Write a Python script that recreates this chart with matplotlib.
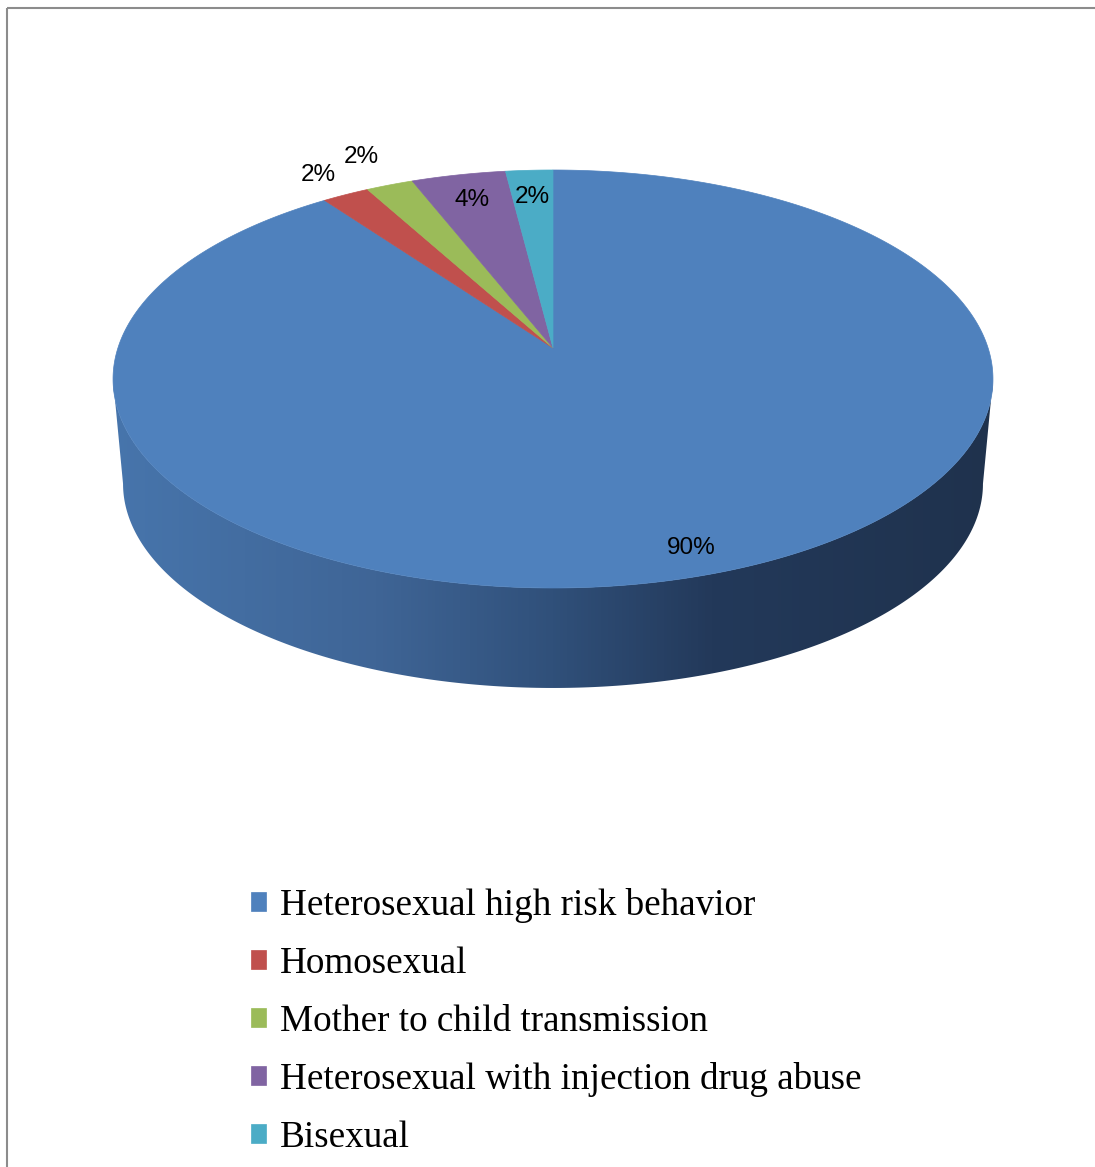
import numpy as np
import matplotlib
matplotlib.use("Agg")
import matplotlib.pyplot as plt
from matplotlib.transforms import Transform
from matplotlib.path import Path
from matplotlib.patches import Polygon, Rectangle
from matplotlib.colors import LinearSegmentedColormap

# data
categories = ["Heterosexual high risk behavior", "Homosexual",
              "Mother to child transmission",
              "Heterosexual with injection drug abuse", "Bisexual"]
shares = [90, 2, 2, 4, 2]
pct_labels = ["90%", "2%", "2%", "4%", "2%"]
colors = ["#4F81BD", "#C0504D", "#9BBB59", "#8064A2", "#4BACC6"]
label_radius = [0.9, 1.15, 1.2, 0.84, 0.83]


class Tilt(Transform):
    """Maps the unit disc onto a perspective ellipse (pixel coords)."""
    input_dims = output_dims = 2
    is_separable = False
    has_inverse = False

    def __init__(self, cx, cy, a, b, k):
        super().__init__()
        self.cx, self.cy, self.a, self.b, self.k = cx, cy, a, b, k

    def transform_non_affine(self, values):
        arr = np.asarray(values, dtype=float)
        xy = arr.reshape(-1, 2)
        w = 1 + self.k * xy[:, 1]
        out = np.column_stack([self.cx + self.a * xy[:, 0] / w,
                               self.cy - self.b * xy[:, 1] / w])
        return out.reshape(arr.shape)

    def transform_path_non_affine(self, path):
        # flatten the bezier arcs first so the projection stays smooth
        t = np.linspace(0, 1, 40)
        pts = np.concatenate([seg(t) for seg, _ in path.iter_bezier()])
        return Path(self.transform_non_affine(pts))


W, H = 1095, 1167
fig = plt.figure(figsize=(W / 100, H / 100), dpi=100)
ax = fig.add_axes([0, 0, 1, 1])

k = 0.1483
top = Tilt(553, 348, 435.1, 204.4, k)
bottom = Tilt(553, 453.5, 425.2, 199.7, k)

# front side of the cake
s = np.arcsin(k)
t = np.linspace(np.pi + s, 2 * np.pi - s, 300)
rim = np.column_stack([np.cos(t), np.sin(t)])
side_pts = np.vstack([top.transform(rim), bottom.transform(rim)[::-1]])
side = Polygon(side_pts, closed=True, facecolor="none", edgecolor="none")
ax.add_patch(side)
side_cmap = LinearSegmentedColormap.from_list(
    "side", [(0.0, "#4775AC"), (0.3, "#3F6596"), (0.5, "#30507A"),
             (0.68, "#23395A"), (1.0, "#1F324D")])
grad = ax.imshow(np.linspace(0, 1, 256)[None, :], cmap=side_cmap,
                 extent=[110, 996, 700, 370], aspect="auto", zorder=1)
grad.set_clip_path(side)

# top face
wedges, _ = ax.pie(shares, colors=colors, startangle=90, counterclock=False,
                   wedgeprops={"transform": top + ax.transData, "zorder": 2})
for w in wedges:
    w.set_edgecolor(w.get_facecolor())
    w.set_linewidth(0.5)

for w, lab, r in zip(wedges, pct_labels, label_radius):
    mid = np.deg2rad((w.theta1 + w.theta2) / 2)
    ax.text(r * np.cos(mid), r * np.sin(mid), lab, transform=top + ax.transData,
            ha="center", va="center", fontsize=17.5, family="Liberation Sans",
            color="black", zorder=3)

ax.legend(wedges, categories, loc="upper left", bbox_to_anchor=(251, 888),
          bbox_transform=ax.transData, frameon=False, borderpad=0,
          borderaxespad=0, handlelength=0.405, handleheight=0.405,
          handletextpad=0.37, labelspacing=0.63,
          prop={"family": "Liberation Serif", "size": 26.7})

ax.add_patch(Rectangle((7, 8), 1300, 1400, fill=False, edgecolor="#8C8C8C",
                       linewidth=1.5, clip_on=False))

ax.set_aspect("auto")
ax.set_xlim(0, W)
ax.set_ylim(H, 0)
ax.axis("off")

fig.savefig("out.png", dpi=100)
